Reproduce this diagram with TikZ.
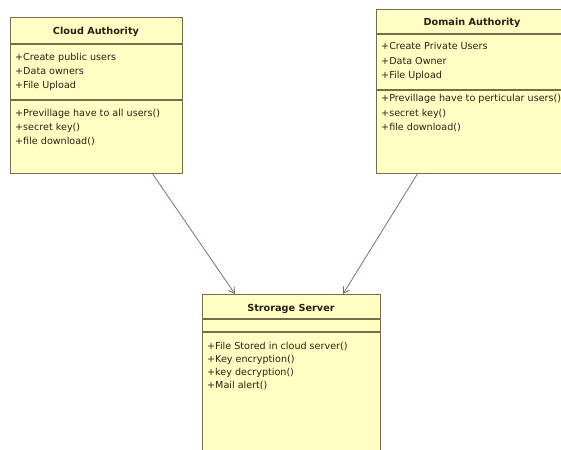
\documentclass[tikz,border=0pt]{standalone}
\usepackage{fontspec}
\setmainfont{DejaVu Sans}
\usetikzlibrary{arrows.meta}
\definecolor{classfill}{HTML}{FFFFC4}
\definecolor{classedge}{HTML}{7A6A48}
\definecolor{linkcol}{HTML}{7E5A66}
\definecolor{txtcol}{HTML}{2A2010}
\begin{document}
\begin{tikzpicture}[x=1pt,y=-1pt,
  classbox/.style={draw=classedge,fill=classfill,line width=1.3pt,anchor=north west,inner sep=0pt},
  sepline/.style={draw=classedge,line width=1.1pt},
  titletext/.style={font=\fontsize{9.7}{11}\selectfont\bfseries,text=txtcol,inner sep=0pt,anchor=base},
  membertext/.style={font=\fontsize{9.6}{11}\selectfont,text=txtcol,anchor=base west,inner sep=0pt},
  link/.style={draw=linkcol,line width=0.7pt,-{Straight Barb[length=6pt,width=7pt]}}
]
\useasboundingbox (0,0) rectangle (561,449);
\fill[white] (0,0) rectangle (561,449);

% Cloud Authority class
\node[classbox,minimum width=172pt,minimum height=156pt] (ca) at (10,17) {};
\draw[sepline] (10,44) -- (182,44);
\draw[sepline] (10,100) -- (182,100);
\node[titletext] (catitle) at (96,35) {Cloud Authority};
\foreach \t [count=\i] in {+Create public users,+Data owners,+File Upload}
  \node[membertext] (caattr\i) at (15,{61+14*(\i-1)}) {\t};
\foreach \t [count=\i] in {+Previllage have to all users(),+secret key(),+file download()}
  \node[membertext] (caop\i) at (15,{117+14*(\i-1)}) {\t};

% Domain Authority class
\node[classbox,minimum width=192pt,minimum height=164pt] (da) at (376,9) {};
\draw[sepline] (376,34) -- (568,34);
\draw[sepline] (376,90) -- (568,90);
\node[titletext] (datitle) at (472,26) {Domain Authority};
\foreach \t [count=\i] in {+Create Private Users,+Data Owner,+File Upload}
  \node[membertext] (daattr\i) at (381,{50+14.5*(\i-1)}) {\t};
\foreach \t [count=\i] in {+Previllage have to perticular users(),+secret key(),+file download()}
  \node[membertext] (daop\i) at (381,{102+14.5*(\i-1)}) {\t};

% Storage Server class
\node[classbox,minimum width=178pt,minimum height=165pt] (ss) at (202,294) {};
\draw[sepline] (202,319) -- (380,319);
\draw[sepline] (202,332) -- (380,332);
\node[titletext] (sstitle) at (291,311) {Strorage Server};
\foreach \t [count=\i] in {+File Stored in cloud server(),+Key encryption(),+key decryption(),+Mail alert()}
  \node[membertext] (ssop\i) at (207,{349+13*(\i-1)}) {\t};

% Associations
\coordinate (caout) at (152,173);
\coordinate (ssinl) at (235,294);
\coordinate (daout) at (418,173);
\coordinate (ssinr) at (343,294);
\draw[link] (caout) -- (ssinl);
\draw[link] (daout) -- (ssinr);
\end{tikzpicture}
\end{document}
